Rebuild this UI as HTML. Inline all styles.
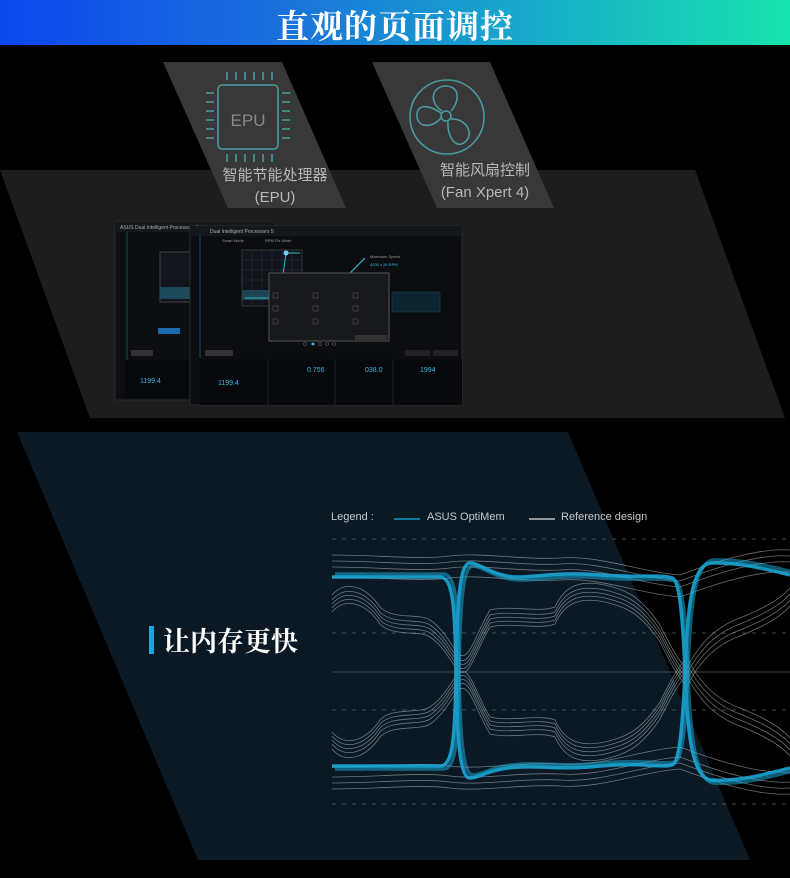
<!DOCTYPE html>
<html><head><meta charset="utf-8"><style>
*{margin:0;padding:0;box-sizing:border-box}
body{width:790px;height:878px;background:#000;position:relative;overflow:hidden;font-family:"Liberation Sans","Noto Sans CJK SC",sans-serif}
.hdr{position:absolute;left:0;top:0;width:790px;height:45px;background:linear-gradient(90deg,#0a47ee 0%,#1a70dc 35%,#17b0c8 70%,#18e3ad 100%)}
.hdr div{position:absolute;left:0;right:0;top:1px;text-align:center;color:#fff;font:bold 33px "Noto Serif CJK SC","Noto Sans CJK SC",serif;letter-spacing:1px}
.lbl{position:absolute;color:#b8b8b8;font-size:15px;text-align:center;line-height:22px}
.t2{position:absolute;left:163px;top:620px;color:#fff;font:bold 27px "Noto Serif CJK SC","Noto Sans CJK SC",serif}
.bar{position:absolute;left:149px;top:626px;width:5px;height:28px;background:#1aa6dc}
.leg{position:absolute;top:511px;color:#c8c8c8;font-size:11px}
</style></head><body>
<div class="hdr"><div>直观的页面调控</div></div>
<svg width="790" height="878" style="position:absolute;left:0;top:0">
<polygon points="0,170 695,170 785,418 90,418" fill="#1d1d1d"/>
<polygon points="163,62 282,62 346,208 228,208" fill="#383838"/>
<polygon points="372,62 490,62 554,208 437,208" fill="#383838"/>
<polygon points="17,432 568,432 750,860 198,860" fill="#0b1924"/>
<g stroke="#4a9aa0" stroke-width="1.6" fill="none">
<rect x="218" y="85" width="60" height="64" rx="4"/>
<g><line x1="227" y1="72" x2="227" y2="80"/><line x1="236" y1="72" x2="236" y2="80"/><line x1="245" y1="72" x2="245" y2="80"/><line x1="254" y1="72" x2="254" y2="80"/><line x1="263" y1="72" x2="263" y2="80"/><line x1="272" y1="72" x2="272" y2="80"/></g>
<g transform="translate(0,82)"><line x1="227" y1="72" x2="227" y2="80"/><line x1="236" y1="72" x2="236" y2="80"/><line x1="245" y1="72" x2="245" y2="80"/><line x1="254" y1="72" x2="254" y2="80"/><line x1="263" y1="72" x2="263" y2="80"/><line x1="272" y1="72" x2="272" y2="80"/></g>
<g><line x1="206" y1="93" x2="214" y2="93"/><line x1="206" y1="102" x2="214" y2="102"/><line x1="206" y1="111" x2="214" y2="111"/><line x1="206" y1="120" x2="214" y2="120"/><line x1="206" y1="129" x2="214" y2="129"/><line x1="206" y1="138" x2="214" y2="138"/>
<line x1="282" y1="93" x2="290" y2="93"/><line x1="282" y1="102" x2="290" y2="102"/><line x1="282" y1="111" x2="290" y2="111"/><line x1="282" y1="120" x2="290" y2="120"/><line x1="282" y1="129" x2="290" y2="129"/><line x1="282" y1="138" x2="290" y2="138"/></g>
<circle cx="447" cy="117" r="37"/>
<circle cx="446" cy="116" r="5"/>
<path d="M442,111 C428,102 432,86 446,86 C460,87 460,100 451,111"/>
<path d="M451,119 C466,118 475,134 465,142 C455,150 447,135 448,122"/>
<path d="M441,118 C432,128 419,128 417,117 C416,104 428,104 441,113"/>
</g>
<text x="248" y="126" text-anchor="middle" fill="#8a8a8a" font-size="17" font-family="Liberation Sans">EPU</text>
<g>
<rect x="115" y="222" width="160" height="178" fill="#0c0e12" stroke="#2a2a2a"/>
<rect x="115" y="222" width="160" height="10" fill="#15181d"/>
<text x="120" y="229" fill="#aaa" font-size="5">ASUS Dual Intelligent Processors 5</text>
<line x1="127" y1="232" x2="127" y2="360" stroke="#1a4a60"/>
<rect x="160" y="252" width="32" height="50" fill="#12161c" stroke="#444"/>
<rect x="160" y="287" width="32" height="12" fill="#1f5060" opacity=".9"/>
<rect x="158" y="328" width="22" height="6" fill="#1a6ab0"/>
<rect x="131" y="350" width="22" height="6" fill="#333"/>
<rect x="125" y="360" width="150" height="38" fill="#07090c"/>
<text x="140" y="383" fill="#38b8e8" font-size="7">1199.4</text>
<polygon points="190,226 462,226 462,405 190,405" fill="#0b0d11" stroke="#2a2a2a"/>
<rect x="190" y="226" width="272" height="10" fill="#14171c"/>
<text x="210" y="233" fill="#aaa" font-size="5">Dual Intelligent Processors 5</text>
<line x1="200" y1="236" x2="200" y2="358" stroke="#1a4a60"/>
<text x="222" y="242" fill="#999" font-size="4">Smart Mode</text>
<text x="265" y="242" fill="#999" font-size="4">RPM Fix Mode</text>
<rect x="242" y="250" width="60" height="56" fill="#10141a" stroke="#333"/>
<g stroke="#2a2f36" stroke-width=".5"><line x1="252" y1="250" x2="252" y2="306"/><line x1="262" y1="250" x2="262" y2="306"/><line x1="272" y1="250" x2="272" y2="306"/><line x1="282" y1="250" x2="282" y2="306"/><line x1="292" y1="250" x2="292" y2="306"/><line x1="242" y1="260" x2="302" y2="260"/><line x1="242" y1="270" x2="302" y2="270"/><line x1="242" y1="280" x2="302" y2="280"/></g>
<rect x="242" y="290" width="60" height="10" fill="#1f5060" opacity=".8"/>
<path d="M245,298 L280,298 L286,253 L300,253" stroke="#2fb8c8" fill="none" stroke-width="1"/>
<circle cx="286" cy="253" r="2.5" fill="#7cf"/>
<path d="M343,280 L365,258" stroke="#2fb8c8" stroke-width="1.2"/>
<text x="370" y="258" fill="#999" font-size="4">Maximum Speed</text>
<text x="370" y="266" fill="#38b8e8" font-size="4">4200 x 26 RPM</text>
<rect x="269" y="273" width="120" height="68" fill="#17191d" stroke="#555"/>
<g fill="none" stroke="#555" stroke-width=".6"><rect x="273" y="293" width="5" height="5"/><rect x="313" y="293" width="5" height="5"/><rect x="353" y="293" width="5" height="5"/><rect x="273" y="306" width="5" height="5"/><rect x="313" y="306" width="5" height="5"/><rect x="353" y="306" width="5" height="5"/><rect x="273" y="319" width="5" height="5"/><rect x="313" y="319" width="5" height="5"/><rect x="353" y="319" width="5" height="5"/></g>
<rect x="355" y="335" width="32" height="6" fill="#333"/>
<g fill="#0d2530" stroke="#1a4a60" stroke-width=".5"><rect x="392" y="292" width="48" height="20"/></g>
<g fill="none" stroke="#666" stroke-width=".6"><circle cx="305" cy="344" r="1.5"/><circle cx="320" cy="344" r="1.5"/><circle cx="327" cy="344" r="1.5"/><circle cx="334" cy="344" r="1.5"/></g>
<circle cx="313" cy="344" r="1.5" fill="#38b8e8"/>
<rect x="205" y="350" width="28" height="6" fill="#333"/>
<rect x="405" y="350" width="25" height="6" fill="#222"/><rect x="433" y="350" width="25" height="6" fill="#222"/>
<rect x="200" y="359" width="262" height="46" fill="#07090c"/>
<text x="218" y="385" fill="#38b8e8" font-size="7">1199.4</text>
<text x="307" y="372" fill="#38b8e8" font-size="7">0.756</text>
<text x="365" y="372" fill="#38b8e8" font-size="7">038.0</text>
<text x="420" y="372" fill="#38b8e8" font-size="7">1994</text>
<line x1="268" y1="359" x2="268" y2="405" stroke="#222"/><line x1="335" y1="359" x2="335" y2="405" stroke="#222"/><line x1="393" y1="359" x2="393" y2="405" stroke="#222"/>
</g>
<g stroke="#5a6a72" stroke-width="1" stroke-dasharray="4,6" opacity=".7">
<line x1="332" y1="539" x2="790" y2="539"/><line x1="332" y1="633" x2="790" y2="633"/><line x1="332" y1="710" x2="790" y2="710"/><line x1="332" y1="804" x2="790" y2="804"/>
</g>
<line x1="332" y1="672" x2="790" y2="672" stroke="#3a4a52"/>
<defs>
<path id="w1" d="M332,600 C345,585 365,590 380,612 C392,625 420,618 430,625 C445,635 450,650 460,660 C470,665 475,640 490,615 C510,610 540,618 555,612 C565,590 580,585 605,590 C625,595 640,600 660,630 C670,650 678,665 685,672"/>
<path id="w2" d="M685,672 C700,640 720,625 740,618 C760,610 780,600 790,588"/>
<path id="w3" d="M332,555 C380,555 420,560 450,556 C480,552 520,560 560,558 C600,555 640,572 680,575 C720,560 760,548 790,550"/>
</defs>
<g fill="none" stroke="#b0b8bc" stroke-width="0.8" opacity=".6">
<use href="#w1"/><use href="#w1" transform="translate(0,4)"/><use href="#w1" transform="translate(0,8)"/><use href="#w1" transform="translate(0,12)"/><use href="#w1" transform="translate(0,-5)"/>
<use href="#w2"/><use href="#w2" transform="translate(0,6)"/><use href="#w2" transform="translate(0,12)"/><use href="#w2" transform="translate(0,18)"/>
<use href="#w3"/><use href="#w3" transform="translate(0,6)"/><use href="#w3" transform="translate(0,12)"/><use href="#w3" transform="translate(0,22)"/>
<g transform="translate(0,1344) scale(1,-1)">
<use href="#w1"/><use href="#w1" transform="translate(0,4)"/><use href="#w1" transform="translate(0,8)"/><use href="#w1" transform="translate(0,12)"/><use href="#w1" transform="translate(0,-5)"/>
<use href="#w2"/><use href="#w2" transform="translate(0,6)"/><use href="#w2" transform="translate(0,12)"/><use href="#w2" transform="translate(0,18)"/>
<use href="#w3"/><use href="#w3" transform="translate(0,6)"/><use href="#w3" transform="translate(0,12)"/><use href="#w3" transform="translate(0,22)"/>
</g>
</g>
<g fill="none" stroke="#1ab0e0" stroke-width="3.5" opacity=".85">
<path d="M332,577 H440 C452,577 455,600 456,672 C457,740 460,778 470,778 C480,778 490,768 520,767 S560,770 600,766 S660,768 672,765 C680,763 683,720 685,672 C687,620 690,566 710,563 C740,562 770,570 790,575"/>
<path d="M332,577 H440 C452,577 455,600 456,672 C457,740 460,778 470,778 C480,778 490,768 520,767 S560,770 600,766 S660,768 672,765 C680,763 683,720 685,672 C687,620 690,566 710,563 C740,562 770,570 790,575" transform="translate(3,-3)" opacity=".6"/>
<path d="M332,766 H440 C452,766 455,744 456,672 C457,600 460,563 470,563 C480,563 495,578 520,577 S560,572 600,575 S660,574 672,578 C680,580 683,620 685,672 C687,720 690,776 710,780 C740,782 770,773 790,768"/>
<path d="M332,766 H440 C452,766 455,744 456,672 C457,600 460,563 470,563 C480,563 495,578 520,577 S560,572 600,575 S660,574 672,578 C680,580 683,620 685,672 C687,720 690,776 710,780 C740,782 770,773 790,768" transform="translate(3,3)" opacity=".6"/>
</g>
<line x1="394" y1="519" x2="420" y2="519" stroke="#1ab0e0" stroke-width="1.2"/>
<line x1="529" y1="519" x2="555" y2="519" stroke="#ddd" stroke-width="1.2"/>
</svg>
<div class="lbl" style="left:200px;top:165px;width:150px">智能节能处理器<br>(EPU)</div>
<div class="lbl" style="left:410px;top:160px;width:150px">智能风扇控制<br>(Fan Xpert 4)</div>
<div class="bar"></div>
<div class="t2">让内存更快</div>
<div class="leg" style="left:331px">Legend :</div>
<div class="leg" style="left:427px">ASUS OptiMem</div>
<div class="leg" style="left:561px">Reference design</div>
</body></html>
